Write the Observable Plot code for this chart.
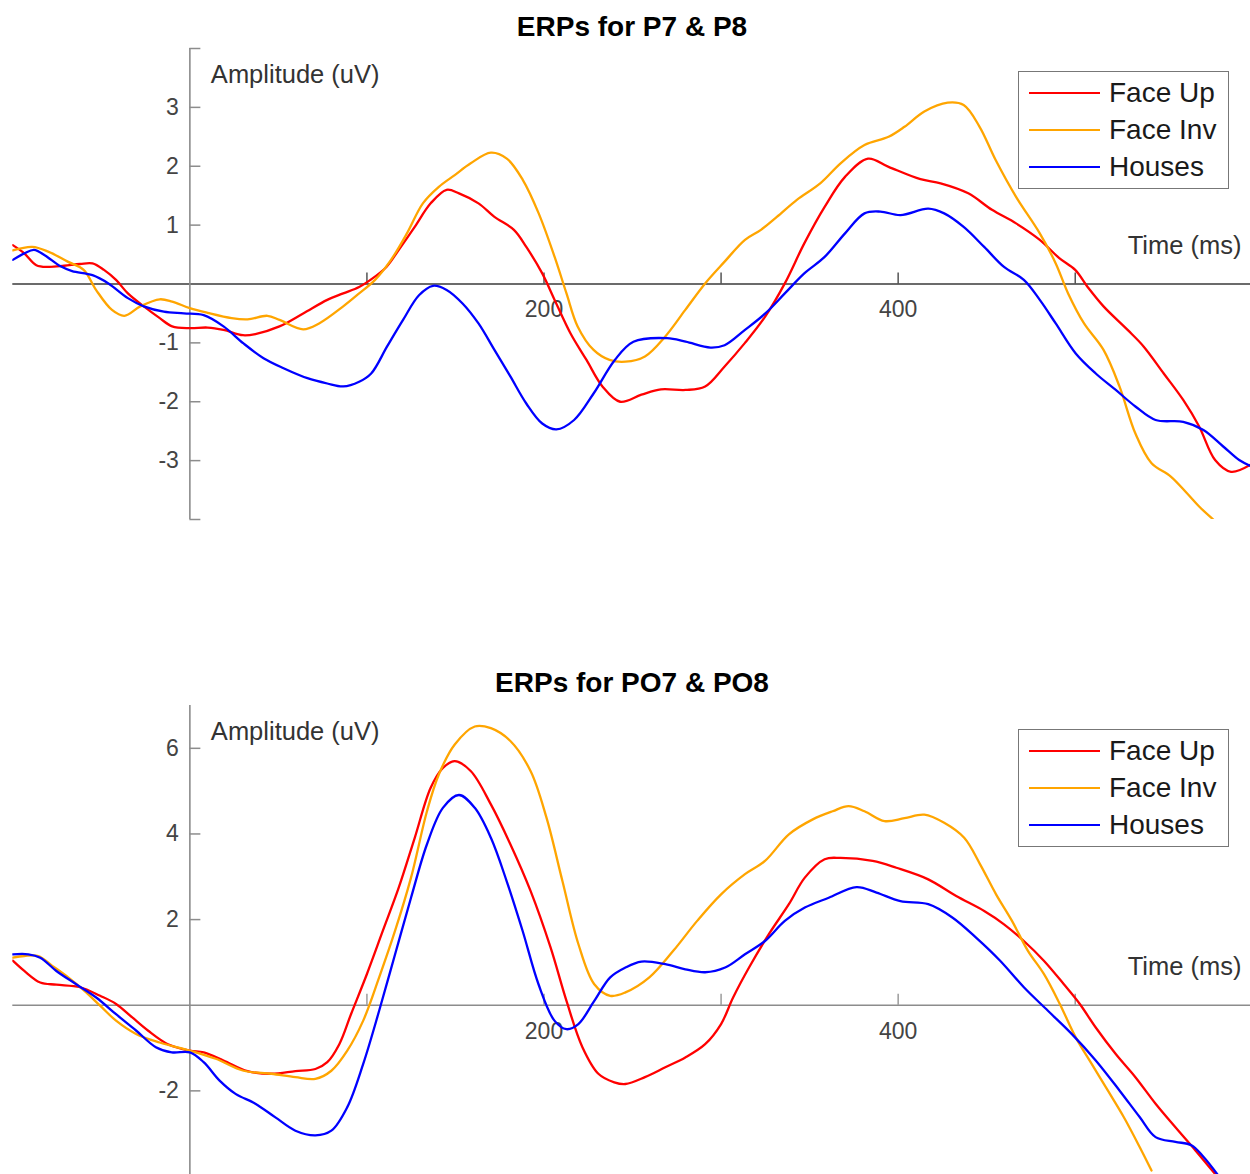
<!DOCTYPE html>
<html>
<head>
<meta charset="utf-8">
<script src="https://cdn.jsdelivr.net/npm/d3@7"></script>
<script src="https://cdn.jsdelivr.net/npm/@observablehq/plot@0.6"></script>
<style>
html, body { margin: 0; padding: 0; background: #fff; overflow: hidden; width: 1250px; height: 1174px; }
#root { position: relative; width: 1250px; height: 1174px; overflow: hidden; font-family: "Liberation Sans", Arial, Helvetica, sans-serif; }
.panel { position: absolute; left: 0; }
.title { position: absolute; left: 0; width: 1264px; text-align: center; font-weight: bold; font-size: 28px; line-height: 32px; color: #000; }
.legend { position: absolute; left: 1018px; width: 209px; height: 116px; border: 1.5px solid #777; background: #fff; box-sizing: content-box; }
.legend .row { position: absolute; left: 0; height: 36px; width: 209px; }
.legend .sw { position: absolute; left: 10px; top: 17px; width: 71px; height: 2px; }
.legend .lab { position: absolute; left: 90px; top: 0; line-height: 36px; font-size: 28px; color: #1a1a1a; white-space: nowrap; }
</style>
</head>
<body>
<div id="root"></div>
<script>
// ---- data ----
const categories = ["Face Up", "Face Inv", "Houses"];
const colors = ["#ff0000", "#ffa500", "#0000ff"];
const titles = ["ERPs for P7 & P8", "ERPs for PO7 & PO8"];
const xDomain = [-100, 599];
const xTicks = [100, 200, 300, 400, 500];
const xLabels = [200, 400];
const yDomainTop = [-4, 4];
const yTicksTop = [-4, -3, -2, -1, 1, 2, 3, 4];
const yLabelsTop = [-3, -2, -1, 1, 2, 3];
const yDomainBottom = [-4, 7];
const yTicksBottom = [-4, -2, 2, 4, 6];
const yLabelsBottom = [-2, 2, 4, 6];

// [time (ms), amplitude (uV)]
const p7FaceUp = [[-100,0.66],[-93.5,0.52],[-86.7,0.32],[-80,0.29],[-71,0.31],[-62,0.34],[-55,0.35],[-48.5,0.24],[-41.7,0.07],[-35,-0.16],[-26,-0.38],[-17,-0.58],[-10,-0.72],[0,-0.75],[10,-0.74],[19,-0.78],[30,-0.87],[37,-0.85],[50.6,-0.72],[64,-0.5],[77.6,-0.27],[86.6,-0.16],[95.6,-0.05],[102,0.07],[111,0.29],[118,0.58],[127,0.97],[136,1.37],[145,1.6],[152,1.54],[163,1.37],[172,1.14],[183,0.92],[190,0.63],[199,0.18],[206,-0.27],[215,-0.84],[224,-1.29],[233,-1.74],[243,-2.0],[255,-1.88],[266,-1.79],[280,-1.8],[291,-1.74],[302,-1.4],[313.5,-1.0],[325,-0.55],[336,0.01],[347,0.69],[358.5,1.31],[370,1.82],[383,2.13],[394.6,1.99],[412.6,1.78],[424,1.71],[439.6,1.54],[453,1.26],[466.6,1.03],[480,0.75],[491,0.44],[500,0.24],[507,-0.05],[516,-0.38],[529.6,-0.78],[538.6,-1.06],[550,-1.52],[561,-1.97],[570,-2.42],[579,-2.99],[588,-3.19],[599,-3.07]];
const p7FaceInv = [[-100,0.57],[-89,0.63],[-80,0.55],[-69,0.38],[-60,0.24],[-53,-0.1],[-44,-0.44],[-37,-0.54],[-28,-0.38],[-17,-0.26],[-10,-0.3],[0,-0.41],[10,-0.49],[23.6,-0.58],[32.6,-0.6],[43.8,-0.54],[50.6,-0.61],[64,-0.77],[73,-0.67],[86.6,-0.38],[95.6,-0.16],[104.6,0.07],[113.6,0.41],[122.6,0.86],[131.6,1.37],[140.6,1.65],[149.6,1.85],[158.6,2.05],[170,2.23],[179,2.13],[188,1.77],[197,1.2],[206,0.46],[212.7,-0.16],[219,-0.72],[228,-1.12],[237,-1.29],[246,-1.32],[257,-1.23],[268.5,-0.89],[279.8,-0.44],[291,0.01],[302,0.38],[313.5,0.75],[322.5,0.92],[331.5,1.14],[342.8,1.43],[356,1.71],[367.5,2.05],[381,2.36],[394.6,2.5],[403.6,2.67],[414.8,2.93],[428,3.08],[437,3.04],[446,2.67],[455,2.11],[466.6,1.48],[480,0.86],[489,0.35],[496,-0.16],[505,-0.67],[516,-1.12],[525,-1.74],[534,-2.54],[543,-3.04],[554,-3.27],[563,-3.55],[570,-3.78],[578,-4.0]];
const p7Houses = [[-100,0.41],[-93.5,0.52],[-88,0.58],[-82,0.49],[-73,0.3],[-66.5,0.22],[-55,0.15],[-46,0.01],[-35,-0.24],[-26,-0.38],[-14.7,-0.47],[-3.4,-0.5],[7.8,-0.53],[19,-0.72],[30.3,-1.01],[41.6,-1.26],[52.9,-1.43],[66.4,-1.6],[77.6,-1.69],[86.6,-1.74],[95.6,-1.66],[102.4,-1.52],[111.4,-1.06],[120.4,-0.61],[129.4,-0.19],[137.3,-0.03],[145,-0.1],[154,-0.33],[163,-0.67],[172,-1.12],[181,-1.57],[190,-2.03],[199,-2.37],[207,-2.47],[217,-2.31],[228,-1.86],[240,-1.29],[250.5,-0.98],[269.5,-0.92],[280,-0.98],[294,-1.08],[302,-1.04],[313.5,-0.78],[325,-0.5],[336,-0.16],[347,0.18],[358.5,0.46],[370,0.86],[381,1.2],[390,1.23],[401.3,1.17],[417,1.28],[426,1.2],[437,0.97],[448.6,0.63],[459.8,0.29],[471,0.07],[480,-0.27],[489,-0.67],[500.3,-1.18],[511.6,-1.52],[522.9,-1.8],[534,-2.08],[545.4,-2.31],[561,-2.34],[572.4,-2.48],[583.6,-2.76],[592.6,-2.99],[599,-3.09]];

const po7FaceUp = [[-100,1.04],[-93.5,0.8],[-84.5,0.53],[-75.4,0.48],[-62,0.42],[-50.7,0.22],[-41.7,0.03],[-32.7,-0.28],[-23.7,-0.59],[-12.4,-0.91],[0,-1.06],[7.8,-1.1],[19,-1.29],[32.6,-1.54],[46,-1.6],[59.6,-1.54],[70.9,-1.49],[77.6,-1.33],[84.4,-0.91],[91,-0.21],[100,0.73],[109,1.74],[118,2.75],[127,3.91],[136,5.08],[142.9,5.54],[149.6,5.7],[158.6,5.47],[170,4.69],[181,3.76],[192.4,2.67],[203.7,1.35],[212.7,0.1],[221.7,-0.98],[230.7,-1.6],[239.7,-1.8],[246,-1.84],[257,-1.68],[268.5,-1.45],[279.8,-1.22],[291,-0.91],[300,-0.44],[306.8,0.18],[315.8,0.88],[327,1.66],[338.3,2.36],[347.3,2.98],[358.5,3.41],[367.5,3.44],[385.6,3.37],[399,3.21],[417,2.94],[432.8,2.55],[448.6,2.2],[459.8,1.89],[471,1.5],[482.3,1.04],[493.6,0.49],[502.6,0.03],[511.6,-0.52],[522.9,-1.14],[534,-1.68],[545.4,-2.3],[556.6,-2.85],[567.9,-3.39],[579,-3.94]];
const po7FaceInv = [[-100,1.11],[-93.5,1.15],[-85.6,1.15],[-77.7,0.92],[-68.7,0.65],[-59.7,0.34],[-50.7,-0.01],[-41.7,-0.36],[-30.4,-0.67],[-17,-0.87],[0,-1.06],[14.6,-1.25],[30.3,-1.53],[46,-1.6],[59.6,-1.68],[70.9,-1.72],[79.9,-1.53],[88.9,-1.06],[97.9,-0.36],[106.9,0.65],[115.9,1.74],[124.9,2.98],[133.9,4.53],[140.6,5.39],[149.6,6.09],[160.9,6.51],[170,6.47],[181,6.17],[192.4,5.47],[201.4,4.38],[210.4,2.9],[219.4,1.43],[228.4,0.49],[237.4,0.22],[246,0.3],[259.5,0.65],[273,1.27],[286.5,1.97],[300,2.59],[313.5,3.06],[324.8,3.37],[338.3,3.99],[351.8,4.34],[363,4.53],[372,4.65],[381,4.53],[392.3,4.3],[403.6,4.37],[414.8,4.45],[426,4.26],[437.3,3.91],[446.3,3.29],[455.3,2.59],[464.3,1.97],[473.3,1.27],[482.3,0.73],[491.3,0.03],[500.3,-0.75],[509.3,-1.37],[518.4,-1.99],[527.4,-2.61],[536.4,-3.31],[543.1,-3.86]];
const po7Houses = [[-100,1.19],[-91.2,1.19],[-84.5,1.11],[-75.4,0.8],[-64.2,0.49],[-52.9,0.18],[-41.7,-0.21],[-30.4,-0.59],[-19.2,-0.98],[-10.2,-1.1],[0,-1.1],[7.8,-1.33],[16.8,-1.76],[25.8,-2.07],[37,-2.3],[48.3,-2.62],[59.6,-2.93],[70.9,-3.04],[79.9,-2.93],[88.9,-2.38],[97.9,-1.37],[106.9,-0.13],[115.9,1.19],[124.9,2.51],[133.9,3.76],[142.9,4.61],[152,4.91],[160.9,4.61],[170,3.91],[178.9,2.9],[187.9,1.74],[196.9,0.49],[205.9,-0.36],[212.7,-0.56],[219.4,-0.44],[228.4,0.1],[237.4,0.65],[246,0.88],[255,1.02],[268.5,0.96],[279.8,0.84],[291,0.77],[302.3,0.88],[313.5,1.19],[324.8,1.5],[336,1.97],[347.3,2.28],[360.8,2.51],[376.5,2.76],[387.8,2.63],[401.3,2.43],[417,2.36],[430.6,2.05],[444,1.58],[457.6,1.04],[471,0.42],[484.6,-0.13],[498,-0.67],[511.6,-1.29],[525,-1.99],[536.4,-2.61],[545.4,-3.08],[556.6,-3.19],[565.6,-3.27],[572.4,-3.54],[581.4,-4.01]];

// ---- drawing ----
const FONT = '"Liberation Sans", Arial, Helvetica, sans-serif';
const root = document.getElementById("root");

function makePanel({series, yDomain, yTicks, yLabels, height, marginTop, marginBottom, xAxisColor}) {
  const rows = categories.flatMap((c, k) => series[k].map(([t, v]) => ({cond: c, t, v})));
  return Plot.plot({
    width: 1250,
    height,
    marginLeft: 12.3,
    marginRight: 0,
    marginTop,
    marginBottom,
    x: {domain: xDomain, axis: null},
    y: {domain: yDomain, axis: null},
    color: {domain: categories, range: colors},
    style: {fontFamily: FONT, background: "transparent", overflow: "visible"},
    marks: [
      Plot.ruleY([0], {stroke: xAxisColor, strokeWidth: 1.6}),
      Plot.ruleX([0], {y1: yDomain[0], y2: yDomain[1], stroke: "#8c8c8c", strokeWidth: 1.6}),
      Plot.ruleY(yTicks, {y: d => d, x1: 0, x2: 0, insetRight: -11, stroke: "#8c8c8c", strokeWidth: 1.5}),
      Plot.ruleX(xTicks, {x: d => d, y1: 0, y2: 0, insetTop: -11, stroke: xAxisColor, strokeWidth: 1.3}),
      Plot.text(xLabels, {x: d => d, y: 0, dy: 26, text: d => String(d), fontSize: 23, fill: "#444"}),
      Plot.text(yLabels, {x: 0, y: d => d, dx: -11, textAnchor: "end", text: d => String(d), fontSize: 23, fill: "#444"}),
      Plot.text(["Amplitude (uV)"], {x: 0, frameAnchor: "top", lineAnchor: "middle", dy: 26.5, dx: 21, textAnchor: "start", fontSize: 25.5, fill: "#333"}),
      Plot.text(["Time (ms)"], {frameAnchor: "right", lineAnchor: "middle", y: 0, dy: -38, dx: -9, textAnchor: "end", fontSize: 25.5, fill: "#333"}),
      Plot.line(rows, {x: "t", y: "v", z: "cond", stroke: "cond", strokeWidth: 2.3, curve: "catmull-rom", clip: true})
    ]
  });
}

function addLegend(top) {
  const lg = document.createElement("div");
  lg.className = "legend";
  lg.style.top = top + "px";
  categories.forEach((c, k) => {
    const row = document.createElement("div");
    row.className = "row";
    row.style.top = (3 + k * 37) + "px";
    const sw = document.createElement("div");
    sw.className = "sw";
    sw.style.background = colors[k];
    const lab = document.createElement("div");
    lab.className = "lab";
    lab.textContent = c;
    row.appendChild(sw);
    row.appendChild(lab);
    lg.appendChild(row);
  });
  root.appendChild(lg);
}

function addTitle(text, top) {
  const t = document.createElement("div");
  t.className = "title";
  t.style.top = top + "px";
  t.textContent = text;
  root.appendChild(t);
}

const top1 = document.createElement("div");
top1.className = "panel";
top1.style.top = "0px";
top1.appendChild(makePanel({
  series: [p7FaceUp, p7FaceInv, p7Houses],
  yDomain: yDomainTop, yTicks: yTicksTop, yLabels: yLabelsTop,
  height: 560, marginTop: 48, marginBottom: 41, xAxisColor: "#3a3a3a"
}));
root.appendChild(top1);

const bot = document.createElement("div");
bot.className = "panel";
bot.style.top = "660px";
bot.appendChild(makePanel({
  series: [po7FaceUp, po7FaceInv, po7Houses],
  yDomain: yDomainBottom, yTicks: yTicksBottom, yLabels: yLabelsBottom,
  height: 540, marginTop: 45, marginBottom: 24, xAxisColor: "#8c8c8c"
}));
root.appendChild(bot);

addTitle(titles[0], 11);
addTitle(titles[1], 667);
addLegend(71);
addLegend(729);
</script>
</body>
</html>
